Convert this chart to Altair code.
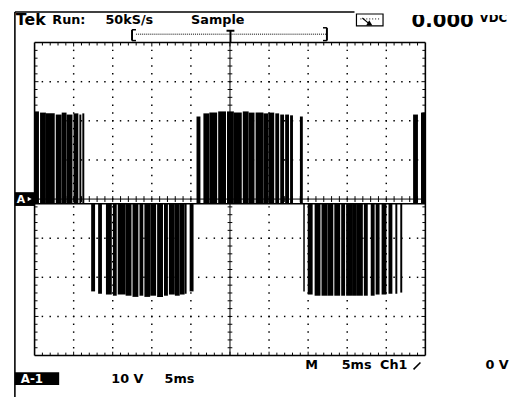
import altair as alt
import pandas as pd

# ---------------- data (time in ms, 5 ms/div; voltage in V, 10 V/div) ----------------
T_MAX = 50.0
V_MAX = 40.0

pos1_start = [0.00, 0.70, 1.45, 2.71, 3.47, 4.10, 4.98, 5.73, 6.11]
pos1_end   = [0.56, 1.45, 2.58, 3.46, 4.09, 4.85, 5.60, 5.98, 6.36]
pos1_peak  = [22.4, 22.1, 21.9, 21.6, 22.1, 21.6, 21.9, 21.6, 21.9]

neg1_start = [7.24, 8.13, 9.13, 10.02, 10.64, 11.65, 12.53, 13.42, 14.05, 14.80, 15.68, 16.56, 17.19, 17.95, 18.58, 19.21, 19.84]
neg1_end   = [7.74, 8.62, 9.88, 10.51, 11.65, 12.40, 13.28, 13.91, 14.79, 15.55, 16.43, 17.06, 17.94, 18.57, 19.20, 19.45, 20.34]
neg1_peak  = [-23.6, -24.2, -24.4, -24.7, -24.4, -24.7, -25.0, -24.7, -25.0, -24.7, -25.0, -24.7, -24.4, -24.7, -24.4, -24.2, -23.6]

pos2_start = [20.72, 21.60, 22.36, 23.49, 24.62, 25.51, 26.64, 27.40, 28.28, 29.28, 29.91, 30.80, 31.43, 32.06, 32.69, 33.95]
pos2_end   = [21.22, 22.35, 23.36, 24.49, 25.50, 26.51, 27.39, 28.14, 29.28, 29.91, 30.66, 31.29, 31.92, 32.55, 33.06, 34.32]
pos2_peak  = [21.1, 21.9, 22.1, 22.4, 22.4, 22.1, 22.4, 22.1, 22.1, 21.9, 22.1, 21.9, 21.6, 21.6, 21.4, 21.1]

neg2_start = [34.38, 34.95, 35.83, 36.71, 37.47, 38.35, 39.23, 39.86, 40.62, 41.25, 42.13, 43.01, 43.64, 44.40, 45.28, 46.16, 46.79]
neg2_end   = [34.57, 35.58, 36.58, 37.46, 38.22, 39.10, 39.73, 40.61, 41.24, 42.00, 42.63, 43.51, 44.14, 45.02, 45.78, 46.41, 47.04]
neg2_peak  = [-23.6, -24.4, -24.7, -24.7, -24.7, -24.7, -24.7, -24.7, -24.7, -24.7, -24.7, -24.7, -24.4, -24.4, -24.2, -24.2, -23.9]

pos3_start = [48.43, 49.44]
pos3_end   = [49.05, 50.00]
pos3_peak  = [21.6, 22.1]

baseline_v = -1.2

header_texts = ["Tek", "Run:", "50kS/s", "Sample"]
readout_value = "0.000"
readout_unit = "VDC"
footer_texts = ["M", "5ms", "Ch1", "0 V"]
channel_label = "A-1"
scale_texts = ["10 V", "5ms"]

# ---------------- tables ----------------
starts = pos1_start + neg1_start + pos2_start + neg2_start + pos3_start
ends = pos1_end + neg1_end + pos2_end + neg2_end + pos3_end
peaks = pos1_peak + neg1_peak + pos2_peak + neg2_peak + pos3_peak
pulses = pd.DataFrame({"t": starts, "t2": ends, "v": [baseline_v] * len(starts), "v2": peaks})

xs = alt.Scale(domain=[0, T_MAX], nice=False, zero=False)
ys = alt.Scale(domain=[-V_MAX, V_MAX], nice=False, zero=False)


def X(f):
    return alt.X(f, type="quantitative", scale=xs, axis=None)


def Y(f):
    return alt.Y(f, type="quantitative", scale=ys, axis=None)


# graticule dots
dots = []
for t in [5, 10, 15, 20, 30, 35, 40, 45]:
    for k in range(-19, 20):
        dots.append({"t": t, "v": 2 * k})
for v in [-30, -20, -10, 10, 20, 30]:
    for t in range(1, 50):
        dots.append({"t": t, "v": v})
dots = pd.DataFrame(dots)

# ticks (rules) : t, t2, v, v2
ticks = []
for t in range(1, 50):
    L = 1.0 if t % 5 == 0 else 0.75
    ticks.append({"t": t, "t2": t, "v": V_MAX, "v2": V_MAX - L})
    ticks.append({"t": t, "t2": t, "v": -V_MAX, "v2": -V_MAX + L})
    ticks.append({"t": t, "t2": t, "v": -0.75, "v2": 0.75})
for k in range(-19, 20):
    v = 2 * k
    L = 0.5 if v % 10 == 0 else 0.38
    ticks.append({"t": 0, "t2": L, "v": v, "v2": v})
    ticks.append({"t": T_MAX, "t2": T_MAX - L, "v": v, "v2": v})
    ticks.append({"t": 24.7, "t2": 25.3, "v": v, "v2": v})
ticks = pd.DataFrame(ticks)

frame = pd.DataFrame([
    {"t": 0, "t2": T_MAX, "v": V_MAX, "v2": V_MAX},
    {"t": 0, "t2": T_MAX, "v": -V_MAX, "v2": -V_MAX},
    {"t": 0, "t2": 0, "v": -V_MAX, "v2": V_MAX},
    {"t": T_MAX, "t2": T_MAX, "v": -V_MAX, "v2": V_MAX},
])
cross = pd.DataFrame([
    {"t": 25, "t2": 25, "v": -V_MAX, "v2": V_MAX},
    {"t": 0, "t2": T_MAX, "v": 0, "v2": 0},
])
base = pd.DataFrame([{"t": 0, "t2": T_MAX, "v": baseline_v, "v2": baseline_v}])

one = pd.DataFrame({"a": [0]})

layers = []
layers.append(alt.Chart(dots).mark_square(size=2.2, color="black", opacity=1).encode(x=X("t"), y=Y("v")))
layers.append(alt.Chart(ticks).mark_rule(color="black", strokeWidth=1).encode(x=X("t"), x2="t2", y=Y("v"), y2="v2"))
layers.append(alt.Chart(cross).mark_rule(color="black", strokeWidth=1).encode(x=X("t"), x2="t2", y=Y("v"), y2="v2"))
layers.append(alt.Chart(base).mark_rule(color="black", strokeWidth=1.5).encode(x=X("t"), x2="t2", y=Y("v"), y2="v2"))
layers.append(alt.Chart(pulses).mark_rect(color="black").encode(x=X("t"), x2="t2", y=Y("v"), y2="v2"))
layers.append(alt.Chart(frame).mark_rule(color="black", strokeWidth=1.6).encode(x=X("t"), x2="t2", y=Y("v"), y2="v2"))


def txt(s, x, y, size=13, color="black", font="DejaVu Sans", weight="bold", align="left"):
    return alt.Chart(one).mark_text(text=s, align=align, baseline="alphabetic", fontSize=size,
                                    font=font, fontWeight=weight, color=color).encode(
        x=alt.value(x), y=alt.value(y))


def rule(x1, x2, y1, y2, w=1.5, dash=None):
    kw = {"color": "black", "strokeWidth": w}
    if dash:
        kw["strokeDash"] = dash
    return alt.Chart(one).mark_rule(**kw).encode(
        x=alt.value(x1), x2=alt.value(x2), y=alt.value(y1), y2=alt.value(y2))


def box(x1, x2, y1, y2, fill="black", stroke=None):
    kw = {"color": fill}
    if stroke:
        kw = {"fill": fill, "stroke": stroke, "strokeWidth": 1.2}
    return alt.Chart(one).mark_rect(**kw).encode(
        x=alt.value(x1), x2=alt.value(x2), y=alt.value(y1), y2=alt.value(y2))


# outer frame lines
layers.append(rule(-20, -20, -31, 360, w=1.6))
layers.append(rule(-20, 325, -31, -31, w=1.6))

# header
layers.append(txt(header_texts[0], -19, -18, size=16))
layers.append(txt(header_texts[1], 18, -19, size=13))
layers.append(txt(header_texts[2], 72, -19, size=13))
layers.append(txt(header_texts[3], 159, -19, size=13))

# meter icon
layers.append(box(327, 354, -29, -17, fill="white", stroke="black"))
layers.append(rule(340, 333, -19, -25, w=1.2))
layers.append(rule(331, 350, -24, -24, w=1, dash=[1, 2]))
layers.append(alt.Chart(one).mark_point(shape="triangle-up", filled=True, color="black", size=40, opacity=1)
              .encode(x=alt.value(340), y=alt.value(-20)))

# readout (top cut off)
layers.append(txt(readout_value, 383, -16, size=20))
layers.append(txt(readout_unit, 452, -21, size=12))
layers.append(box(375, 520, -34, -28, fill="white"))

# trigger bracket
layers.append(rule(99, 99, -13, -2, w=2))
layers.append(rule(99, 103, -13, -13, w=1.5))
layers.append(rule(99, 103, -2, -2, w=1.5))
layers.append(rule(103, 296, -8.5, -8.5, w=1, dash=[1, 1]))
layers.append(rule(195, 203, -12, -12, w=2))
layers.append(rule(199, 199, -12, 0, w=2))
layers.append(rule(297, 297, -15, -2, w=2))
layers.append(rule(293, 297, -15, -15, w=1.5))
layers.append(rule(293, 297, -2, -2, w=1.5))

# channel marker A+
layers.append(box(-20, 0, 152, 166))
layers.append(txt("A", -18, 163.5, size=11, color="white"))
layers.append(alt.Chart(one).mark_point(shape="triangle-right", filled=True, color="white", size=22, opacity=1)
              .encode(x=alt.value(-5), y=alt.value(159)))

# footer
layers.append(txt(footer_texts[0], 275, 332, size=13))
layers.append(txt(footer_texts[1], 312, 332, size=13))
layers.append(txt(footer_texts[2], 351, 332, size=13))
layers.append(rule(385, 392, 332, 325, w=1.6))
layers.append(txt(footer_texts[3], 458, 332, size=13))

layers.append(box(-20, 25, 335, 348))
layers.append(txt(channel_label, -14, 346, size=12, color="white"))
layers.append(txt(scale_texts[0], 78, 346, size=13))
layers.append(txt(scale_texts[1], 132, 346, size=13))

chart = alt.layer(*layers).properties(
    width=397, height=318,
    padding={"left": 27, "top": 32, "right": 87, "bottom": 40},
    autosize=alt.AutoSizeParams(type="none"),
    background="white",
).configure_view(stroke=None)

chart.save("out.html", embed_options={"renderer": "svg", "actions": False})
